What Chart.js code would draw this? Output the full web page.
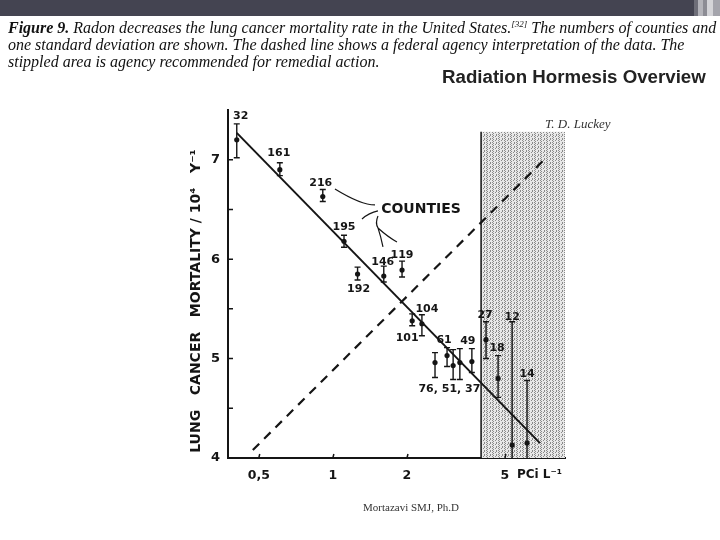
<!DOCTYPE html>
<html>
<head>
<meta charset="utf-8">
<script src="https://cdn.jsdelivr.net/npm/chart.js@4.4.1/dist/chart.umd.min.js"></script>
<style>
  body { margin: 0; width: 720px; height: 540px; overflow: hidden; background: #fff; position: relative; }
  #band { position: absolute; left: 0; top: 0; width: 720px; height: 16px; background: #444451; }
  #strip { position: absolute; left: 694px; top: 0; width: 26px; height: 16px;
           background: linear-gradient(to right, #6e6e78 0, #6e6e78 15%, #b4b4ba 15%, #b4b4ba 35%, #8c8c94 35%, #8c8c94 50%, #d4d4d8 50%, #d4d4d8 75%, #a4a4ac 75%); }
  #caption { position: absolute; left: 8px; top: 16px; font-family: 'Liberation Serif', serif; font-style: italic;
             font-size: 16px; line-height: 17px; color: #111; white-space: nowrap; z-index: 2; }
  #caption sup { font-size: 9px; }
  #title { position: absolute; left: 442px; top: 66px; font-family: 'Liberation Sans', Arial, sans-serif;
           font-weight: bold; font-size: 18.7px; color: #222; z-index: 2; }
  #luckey { position: absolute; left: 545px; top: 116px; font-family: 'Liberation Serif', serif; font-style: italic;
            font-size: 13px; color: #333; z-index: 2; }
  #footer { position: absolute; left: 363px; top: 501px; font-family: 'Liberation Serif', serif;
            font-size: 11px; color: #333; z-index: 2; }
  #chart { position: absolute; left: 0; top: 0; }
</style>
</head>
<body>
<div id="band"></div>
<div id="strip"></div>
<div id="caption"><b>Figure 9.</b> Radon decreases the lung cancer mortality rate in the United States.<sup>[32]</sup> The numbers of counties and<br>one standard deviation are shown. The dashed line shows a federal agency interpretation of the data. The<br>stippled area is agency recommended for remedial action.</div>
<div id="title">Radiation Hormesis Overview</div>
<div id="luckey">T. D. Luckey</div>
<div id="footer">Mortazavi SMJ, Ph.D</div>
<canvas id="chart" width="720" height="540"></canvas>
<script>
// county groups: radon level (pCi/L), lung cancer mortality (/10^4/y), +-1 SD
const doses   = [0.407, 0.609, 0.91, 1.11, 1.26, 1.61, 1.91, 2.10, 2.30, 2.60, 2.91, 3.08, 3.28, 3.67, 4.19, 4.69, 5.35, 6.15];
const rates   = [7.20, 6.90, 6.63, 6.18, 5.85, 5.83, 5.89, 5.38, 5.35, 4.96, 5.03, 4.93, 4.96, 4.97, 5.19, 4.80, 4.13, 4.15];
const errLow  = [7.02, 6.84, 6.58, 6.12, 5.79, 5.77, 5.82, 5.33, 5.23, 4.81, 4.92, 4.79, 4.79, 4.86, 5.00, 4.61, 4.00, 4.00];
const errHigh = [7.36, 6.97, 6.70, 6.24, 5.92, 5.93, 5.98, 5.45, 5.44, 5.06, 5.11, 5.09, 5.10, 5.10, 5.37, 5.03, 5.37, 4.78];
const counties = ['32', '161', '216', '195', '192', '146', '119', '101', '104', '', '61', '', '', '49', '27', '18', '12', '14'];
const groupLabel = '76, 51, 37';

// regression line and the agency (dashed) line
const fitDose = [0.407, 6.94];
const fitRate = [7.27, 4.15];
const agencyDose = [0.473, 7.28];
const agencyRate = [4.08, 7.01];

// remedial (stippled) zone
const remedialFrom = 4;
const remedialTop = 7.28;

const xTicks = [0.5, 1, 2, 5];
const xTickLabels = ['0,5', '1', '2', '5'];
const yTicks = [4, 5, 6, 7];
const yMinorTicks = [4.5, 5.5, 6.5];

// label placement in px relative to each point
const labelOffsets = [[4,-24],[-1,-17],[-2,-13],[0,-14],[1,15],[-1,-14],[0,-15],[-5,17],[5,-15],[0,0],
                      [-3,-15],[0,0],[0,0],[-4,-20],[-1,-25],[-1,-30],[0,-128],[0,-69]];

const INK = '#151515';
const sans = "'DejaVu Sans', sans-serif";

function stipplePattern(ctx) {
  const c = document.createElement('canvas');
  c.width = 6; c.height = 4;
  const p = c.getContext('2d');
  p.fillStyle = '#e8e8e8';
  p.fillRect(0, 0, 6, 4);
  p.fillStyle = '#8a8a8a';
  [[0,0],[0,2],[1,1],[1,3],[3,0],[4,2],[4,3]].forEach(([x, y]) => p.fillRect(x, y, 1, 1));
  return ctx.createPattern(c, 'repeat');
}

const figurePlugin = {
  id: 'figure',
  beforeDatasetsDraw(chart) {
    const {ctx, chartArea, scales: {x, y}} = chart;
    const x0 = x.getPixelForValue(remedialFrom);
    const yTop = y.getPixelForValue(remedialTop);
    ctx.save();
    ctx.fillStyle = stipplePattern(ctx);
    ctx.fillRect(x0, yTop, chartArea.right - x0, chartArea.bottom - yTop);
    ctx.strokeStyle = INK;
    ctx.lineWidth = 1.5;
    ctx.beginPath();
    ctx.moveTo(x0, yTop);
    ctx.lineTo(x0, chartArea.bottom);
    ctx.stroke();
    ctx.restore();
  },
  afterDatasetsDraw(chart) {
    const {ctx, chartArea, scales: {x, y}} = chart;
    ctx.save();
    ctx.strokeStyle = INK;
    ctx.fillStyle = INK;
    ctx.lineWidth = 1.4;

    // error bars
    doses.forEach((d, i) => {
      const px = x.getPixelForValue(d);
      const lo = y.getPixelForValue(errLow[i]);
      const hi = y.getPixelForValue(errHigh[i]);
      ctx.beginPath();
      ctx.moveTo(px, lo); ctx.lineTo(px, hi);
      ctx.moveTo(px - 3, hi); ctx.lineTo(px + 3, hi);
      if (errLow[i] > y.min) { ctx.moveTo(px - 3, lo); ctx.lineTo(px + 3, lo); }
      ctx.stroke();
    });

    // inner tick marks
    ctx.lineWidth = 1.5;
    ctx.beginPath();
    yTicks.concat(yMinorTicks).forEach(v => {
      const py = y.getPixelForValue(v);
      ctx.moveTo(chartArea.left, py); ctx.lineTo(chartArea.left + 5, py);
    });
    xTicks.forEach(v => {
      const px = x.getPixelForValue(v);
      ctx.moveTo(px, chartArea.bottom); ctx.lineTo(px + 1, chartArea.bottom - 4);
    });
    ctx.stroke();

    // county counts
    ctx.font = 'bold 11px ' + sans;
    ctx.textAlign = 'center';
    ctx.textBaseline = 'middle';
    doses.forEach((d, i) => {
      if (!counties[i]) return;
      const px = x.getPixelForValue(d) + labelOffsets[i][0];
      const py = y.getPixelForValue(rates[i]) + labelOffsets[i][1];
      ctx.fillText(counties[i], px, py);
    });
    const gx = (x.getPixelForValue(doses[9]) + x.getPixelForValue(doses[13])) / 2 - 4;
    const gy = y.getPixelForValue(errLow[11]) + 10;
    ctx.fillText(groupLabel, gx, gy);

    // "COUNTIES" callout with leader curves
    const cx = x.getPixelForValue(2.28);
    const cy = y.getPixelForValue(6.505);
    ctx.font = 'bold 14px ' + sans;
    ctx.fillText('COUNTIES', cx, cy);
    ctx.lineWidth = 1.2;
    ctx.beginPath();
    ctx.moveTo(cx - 86, cy - 20);
    ctx.quadraticCurveTo(cx - 60, cy - 4, cx - 46, cy - 4);
    ctx.moveTo(cx - 43, cy + 2);
    ctx.quadraticCurveTo(cx - 52, cy + 4, cx - 59, cy + 10);
    ctx.moveTo(cx - 43, cy + 7);
    ctx.quadraticCurveTo(cx - 46, cy + 14, cx - 43, cy + 19);
    ctx.quadraticCurveTo(cx - 40, cy + 28, cx - 38, cy + 38);
    ctx.moveTo(cx - 43, cy + 19);
    ctx.quadraticCurveTo(cx - 33, cy + 28, cx - 24, cy + 33);
    ctx.stroke();

    // unit next to the last x tick
    ctx.font = 'bold 12px ' + sans;
    ctx.textAlign = 'left';
    ctx.fillText('PCi L\u207B\u00B9', x.getPixelForValue(5) + 12, chartArea.bottom + 17);
    ctx.restore();
  }
};

new Chart(document.getElementById('chart'), {
  type: 'scatter',
  data: {
    datasets: [
      {
        label: 'Counties',
        data: doses.map((d, i) => ({x: d, y: rates[i]})),
        pointRadius: 2.6,
        pointBackgroundColor: INK,
        pointBorderWidth: 0,
        showLine: false
      },
      {
        label: 'Fit',
        data: fitDose.map((d, i) => ({x: d, y: fitRate[i]})),
        showLine: true,
        borderColor: INK,
        borderWidth: 2,
        pointRadius: 0
      },
      {
        label: 'Agency',
        data: agencyDose.map((d, i) => ({x: d, y: agencyRate[i]})),
        showLine: true,
        borderColor: INK,
        borderWidth: 2.2,
        borderDash: [9, 7],
        pointRadius: 0
      }
    ]
  },
  options: {
    responsive: false,
    animation: false,
    layout: { padding: { left: 170, right: 155, top: 110, bottom: 50 } },
    plugins: { legend: { display: false }, tooltip: { enabled: false } },
    scales: {
      x: {
        type: 'logarithmic',
        min: 0.375,
        max: 8.77,
        afterBuildTicks: s => { s.ticks = xTicks.map(v => ({value: v})); },
        afterFit: s => { s.height = 32; },
        grid: { drawOnChartArea: false, drawTicks: false },
        border: { color: INK, width: 2 },
        ticks: {
          autoSkip: false,
          maxRotation: 0,
          padding: 10,
          color: INK,
          font: { family: sans, size: 12.5, weight: 'bold' },
          callback: (v, i) => xTickLabels[i]
        }
      },
      y: {
        min: 4,
        max: 7.5,
        afterBuildTicks: s => { s.ticks = yTicks.map(v => ({value: v})); },
        afterFit: s => { s.width = 58; },
        grid: { drawOnChartArea: false, drawTicks: false },
        border: { color: INK, width: 2 },
        ticks: {
          padding: 8,
          color: INK,
          font: { family: sans, size: 13, weight: 'bold' },
          callback: v => String(v)
        },
        title: {
          display: true,
          align: 'center',
          text: 'LUNG   CANCER   MORTALITY / 10\u2074   Y\u207B\u00B9       ',
          color: INK,
          font: { family: sans, size: 14, weight: 'bold' },
          padding: { top: 18, bottom: 0 }
        }
      }
    }
  },
  plugins: [figurePlugin]
});
</script>
</body>
</html>
